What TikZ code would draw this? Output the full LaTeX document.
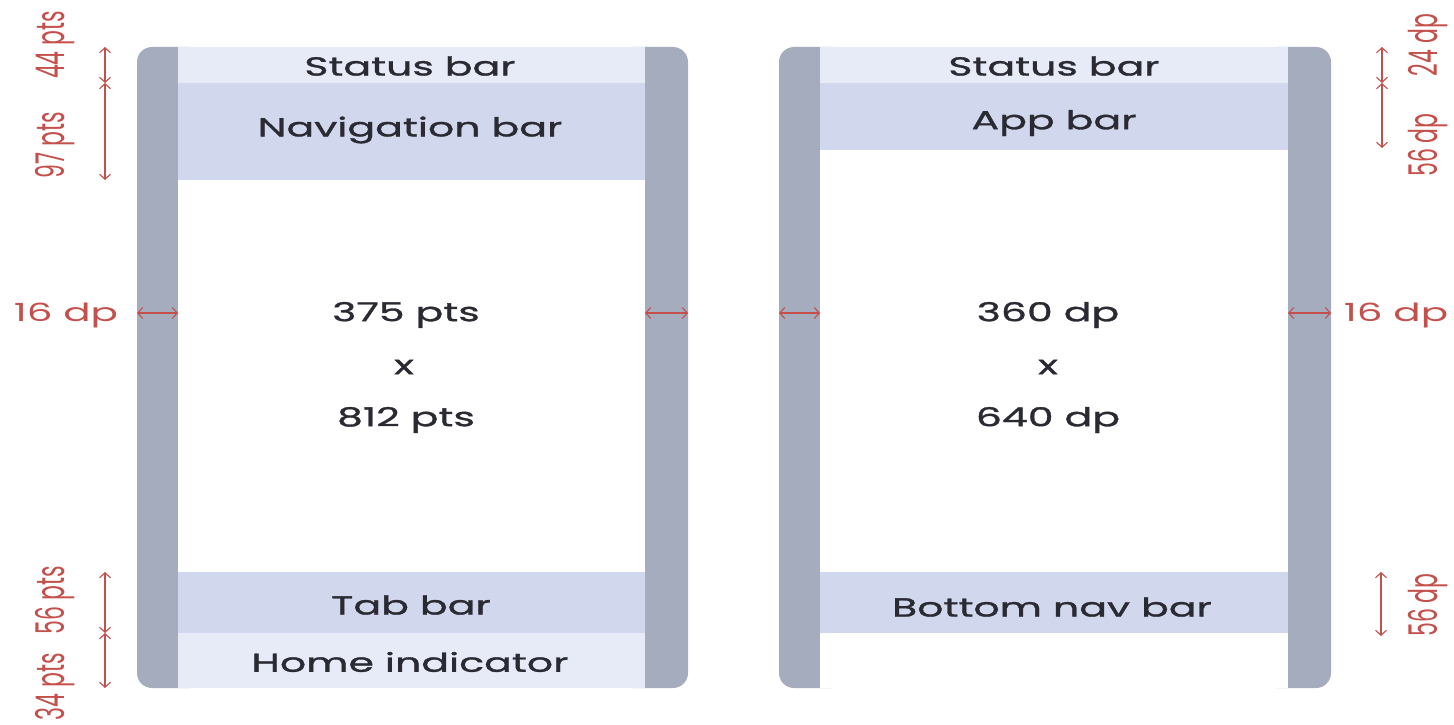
\documentclass[tikz,border=0pt]{standalone}
\usepackage{fontspec}
\setmainfont{Poppins}
\newfontfamily\widefont{Poppins}[FakeStretch=1.58, FakeBold=1.2]
\newfontfamily\wideredfont{Poppins}[FakeStretch=1.62]
\usetikzlibrary{arrows.meta}

\definecolor{framegray}{HTML}{A4ACBE}
\definecolor{barlight}{HTML}{E7EBF7}
\definecolor{bardark}{HTML}{D1D7EC}
\definecolor{dimred}{HTML}{C4504C}
\definecolor{inkdark}{HTML}{2A2A33}

% rotated labels are stretched across their text direction
\newcommand{\tall}[1]{\scalebox{1}[1.8]{#1}}

\tikzset{
	frame/.style={fill=framegray, rounded corners=15pt},
	barlabel/.style={font=\widefont\fontsize{26}{30}\selectfont, text=inkdark, inner sep=0pt},
	dimline/.style={draw=dimred, line width=1.1pt, {Straight Barb[length=5pt,width=11pt]}-{Straight Barb[length=5pt,width=11pt]}},
	dimtext/.style={font=\wideredfont\fontsize{25}{28}\selectfont, text=dimred, inner sep=0pt},
	dimtextv/.style={font=\fontsize{22}{24}\selectfont, text=dimred, inner sep=0pt, rotate=90},
}

\begin{document}
\begin{tikzpicture}[x=1pt, y=-1pt]
		\useasboundingbox[fill=white] (0,0) rectangle (1454,725);
		
		% Left phone (iOS)
		\fill[frame] (137,47) rectangle (205,688);
		\fill[frame] (618,47) rectangle (688,688);
		\fill[white] (178,47) rectangle (645,688);
		\fill[barlight] (178,47) rectangle (645,83);
		\fill[bardark] (178,83) rectangle (645,180);
		\fill[bardark] (178,572) rectangle (645,633);
		\fill[barlight] (178,633) rectangle (645,688);
		
		\node[barlabel] (ios status) at (410,66) {Status bar};
		\node[barlabel] (ios nav) at (410,130) {Navigation bar};
		\node[barlabel] (ios w) at (406,315) {375 pts};
		\node[barlabel] (ios x) at (404,367) {x};
		\node[barlabel] (ios h) at (406,420) {812 pts};
		\node[barlabel] (ios tab) at (411,605) {Tab bar};
		\node[barlabel] (ios home) at (410,662) {Home indicator};
		
		% Right phone (Android)
		\fill[frame] (779,47) rectangle (847,688);
		\fill[frame] (1261,47) rectangle (1331,688);
		\fill[white] (820,47) rectangle (1288,688);
		\fill[barlight] (820,47) rectangle (1288,83);
		\fill[bardark] (820,83) rectangle (1288,150);
		\fill[bardark] (820,572) rectangle (1288,633);
		
		\node[barlabel] (and status) at (1054,66) {Status bar};
		\node[barlabel] (and app) at (1054,123) {App bar};
		\node[barlabel] (and w) at (1048,315) {360 dp};
		\node[barlabel] (and x) at (1048,367) {x};
		\node[barlabel] (and h) at (1048,420) {640 dp};
		\node[barlabel] (and bottom) at (1052,607) {Bottom nav bar};
		
		% Dimension points, left side
		\coordinate (lt0) at (105,47);
		\coordinate (lt1) at (105,83);
		\coordinate (lt2) at (105,180);
		\coordinate (lb0) at (105,572);
		\coordinate (lb1) at (105,633);
		\coordinate (lb2) at (105,688);
		
		% Dimension points, right side
		\coordinate (rt0) at (1382,47);
		\coordinate (rt1) at (1382,83);
		\coordinate (rt2) at (1382,148);
		\coordinate (rb0) at (1381,572);
		\coordinate (rb1) at (1381,636);
		
		% Margin points
		\coordinate (m1a) at (137,313);
		\coordinate (m1b) at (178,313);
		\coordinate (m2a) at (645,313);
		\coordinate (m2b) at (688,313);
		\coordinate (m3a) at (779,313);
		\coordinate (m3b) at (820,313);
		\coordinate (m4a) at (1288,313);
		\coordinate (m4b) at (1331,313);
		
		% Heights
		\draw[dimline] (lt0) -- (lt1);
		\draw[dimline] (lt1) -- (lt2);
		\draw[dimline] (lb0) -- (lb1);
		\draw[dimline] (lb1) -- (lb2);
		\draw[dimline] (rt0) -- (rt1);
		\draw[dimline] (rt1) -- (rt2);
		\draw[dimline] (rb0) -- (rb1);
		
		\node[dimtextv] (h44) at (55,45) {\tall{44 pts}};
		\node[dimtextv] (h97) at (55,145) {\tall{97 pts}};
		\node[dimtextv] (h56) at (55,600) {\tall{56 pts}};
		\node[dimtextv] (h34) at (55,687) {\tall{34 pts}};
		\node[dimtextv] (h24) at (1428,45) {\tall{24 dp}};
		\node[dimtextv] (h56a) at (1428,145) {\tall{56 dp}};
		\node[dimtextv] (h56b) at (1428,605) {\tall{56 dp}};
		
		% Side margins
		\draw[dimline] (m1a) -- (m1b);
		\draw[dimline] (m2a) -- (m2b);
		\draw[dimline] (m3a) -- (m3b);
		\draw[dimline] (m4a) -- (m4b);
		\node[dimtext] (w16l) at (66,315) {16 dp};
		\node[dimtext] (w16r) at (1396,315) {16 dp};
		
	\end{tikzpicture}
\end{document}
